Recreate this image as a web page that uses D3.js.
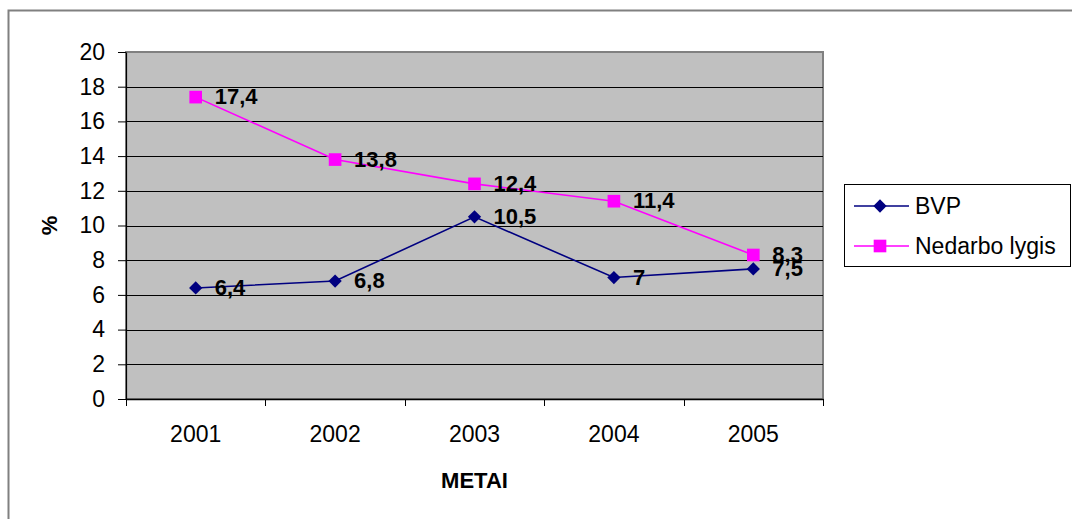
<!DOCTYPE html>
<html>
<head>
<meta charset="utf-8">
<script src="https://cdn.jsdelivr.net/npm/d3@7/dist/d3.min.js"></script>
<style>
  html, body { margin: 0; padding: 0; background: #fff; }
  svg { display: block; font-family: "Liberation Sans", Arial, sans-serif; }
</style>
</head>
<body>
<svg id="chart" width="1072" height="519"></svg>
<script>
// Years on the horizontal axis
const years = ["2001", "2002", "2003", "2004", "2005"];
// Series values, %
const bvp = [6.4, 6.8, 10.5, 7, 7.5];
const nedarbo = [17.4, 13.8, 12.4, 11.4, 8.3];
// Value axis ticks
const yTicks = [0, 2, 4, 6, 8, 10, 12, 14, 16, 18, 20];
const seriesNames = ["BVP", "Nedarbo lygis"];

const FONT = "Liberation Sans, Arial, sans-serif";
const svg = d3.select("#chart");

// outer frame
svg.append("rect")
  .attr("x", 8.5).attr("y", 10.5)
  .attr("width", 1100).attr("height", 600)
  .attr("fill", "#fff").attr("stroke", "#808080").attr("stroke-width", 2);

const plot = { left: 126, top: 52, right: 823, bottom: 399 };

const x = d3.scaleBand().domain(years).range([plot.left, plot.right]);
const y = d3.scaleLinear().domain([0, 20]).range([plot.bottom, plot.top]);

// plot area background
svg.append("rect")
  .attr("x", plot.left).attr("y", plot.top)
  .attr("width", plot.right - plot.left).attr("height", plot.bottom - plot.top)
  .attr("fill", "#C0C0C0").attr("stroke", "#808080").attr("stroke-width", 2);

// horizontal gridlines
svg.append("g").selectAll("line")
  .data(yTicks.filter(d => d > 0 && d < 20))
  .join("line")
  .attr("x1", plot.left).attr("x2", plot.right)
  .attr("y1", d => Math.round(y(d)) + 0.5).attr("y2", d => Math.round(y(d)) + 0.5)
  .attr("stroke", "#000").attr("stroke-width", 1);

// y axis
const yAxis = svg.append("g")
  .attr("transform", `translate(${plot.left},0)`)
  .call(d3.axisLeft(y).tickValues(yTicks).tickSize(8).tickPadding(13).tickSizeOuter(0));
yAxis.attr("font-size", null).attr("font-family", null);
yAxis.select(".domain").attr("stroke", "#000").attr("stroke-width", 1.2);
yAxis.selectAll(".tick line").attr("stroke", "#000");
yAxis.selectAll(".tick text")
  .style("font-size", "23px").attr("fill", "#000").style("font-family", FONT);

// x axis: ticks on category boundaries
const xAxis = svg.append("g")
  .attr("transform", `translate(0,${plot.bottom})`)
  .call(d3.axisBottom(x).tickSize(0).tickPadding(27));
xAxis.attr("font-size", null).attr("font-family", null);
xAxis.select(".domain").attr("stroke", "#000").attr("stroke-width", 1.5);
xAxis.selectAll(".tick text")
  .style("font-size", "23px").attr("fill", "#000").style("font-family", FONT);
const bounds = years.map(d => x(d)).concat([x(years[years.length - 1]) + x.bandwidth()]);
svg.append("g").selectAll("line")
  .data(bounds).join("line")
  .attr("x1", d => Math.round(d) + 0.5).attr("x2", d => Math.round(d) + 0.5)
  .attr("y1", plot.bottom).attr("y2", plot.bottom + 7)
  .attr("stroke", "#000");

// axis titles
svg.append("text")
  .attr("x", x("2003") + x.bandwidth() / 2).attr("y", 488)
  .attr("text-anchor", "middle").attr("font-weight", "bold").style("font-size", "22px")
  .text("METAI");
svg.append("text")
  .attr("transform", `translate(57,${(plot.top + plot.bottom) / 2}) rotate(-90)`)
  .attr("text-anchor", "middle").attr("font-weight", "bold").style("font-size", "22px")
  .text("%");

const cx = d => x(d) + x.bandwidth() / 2;
const line = d3.line().x(d => cx(d.year)).y(d => y(d.v));

const series = [
  { name: seriesNames[0], values: bvp, color: "#000080", symbol: d3.symbolSquare, size: 88, rot: 45 },
  { name: seriesNames[1], values: nedarbo, color: "#FF00FF", symbol: d3.symbolSquare, size: 160, rot: 0 }
];

series.forEach(s => {
  const pts = s.values.map((v, i) => ({ year: years[i], v }));
  svg.append("path").datum(pts)
    .attr("d", line).attr("fill", "none")
    .attr("stroke", s.color).attr("stroke-width", 1.6);
  svg.append("g").selectAll("path")
    .data(pts).join("path")
    .attr("transform", d => `translate(${cx(d.year)},${y(d.v)}) rotate(${s.rot})`)
    .attr("d", d3.symbol().type(s.symbol).size(s.size))
    .attr("fill", s.color);
});

// data labels
series.forEach(s => {
  svg.append("g").selectAll("text")
    .data(s.values.map((v, i) => ({ year: years[i], v })))
    .join("text")
    .attr("x", d => cx(d.year) + 19)
    .attr("y", d => y(d.v) + 7)
    .attr("font-weight", "bold").style("font-size", "22px").attr("fill", "#000")
    .text(d => String(d.v).replace(".", ","));
});

// legend
const lg = svg.append("g");
lg.append("rect")
  .attr("x", 844.5).attr("y", 184.5).attr("width", 226).attr("height", 82)
  .attr("fill", "#fff").attr("stroke", "#000").attr("stroke-width", 1);
series.forEach((s, i) => {
  const ly = 206 + i * 40;
  lg.append("line")
    .attr("x1", 854).attr("x2", 909).attr("y1", ly).attr("y2", ly)
    .attr("stroke", s.color).attr("stroke-width", 1.6);
  lg.append("path")
    .attr("transform", `translate(880,${ly}) rotate(${s.rot})`)
    .attr("d", d3.symbol().type(s.symbol).size(s.size))
    .attr("fill", s.color);
  lg.append("text")
    .attr("x", 915).attr("y", ly + 8)
    .style("font-size", "23px").attr("fill", "#000")
    .text(s.name);
});
</script>
</body>
</html>
